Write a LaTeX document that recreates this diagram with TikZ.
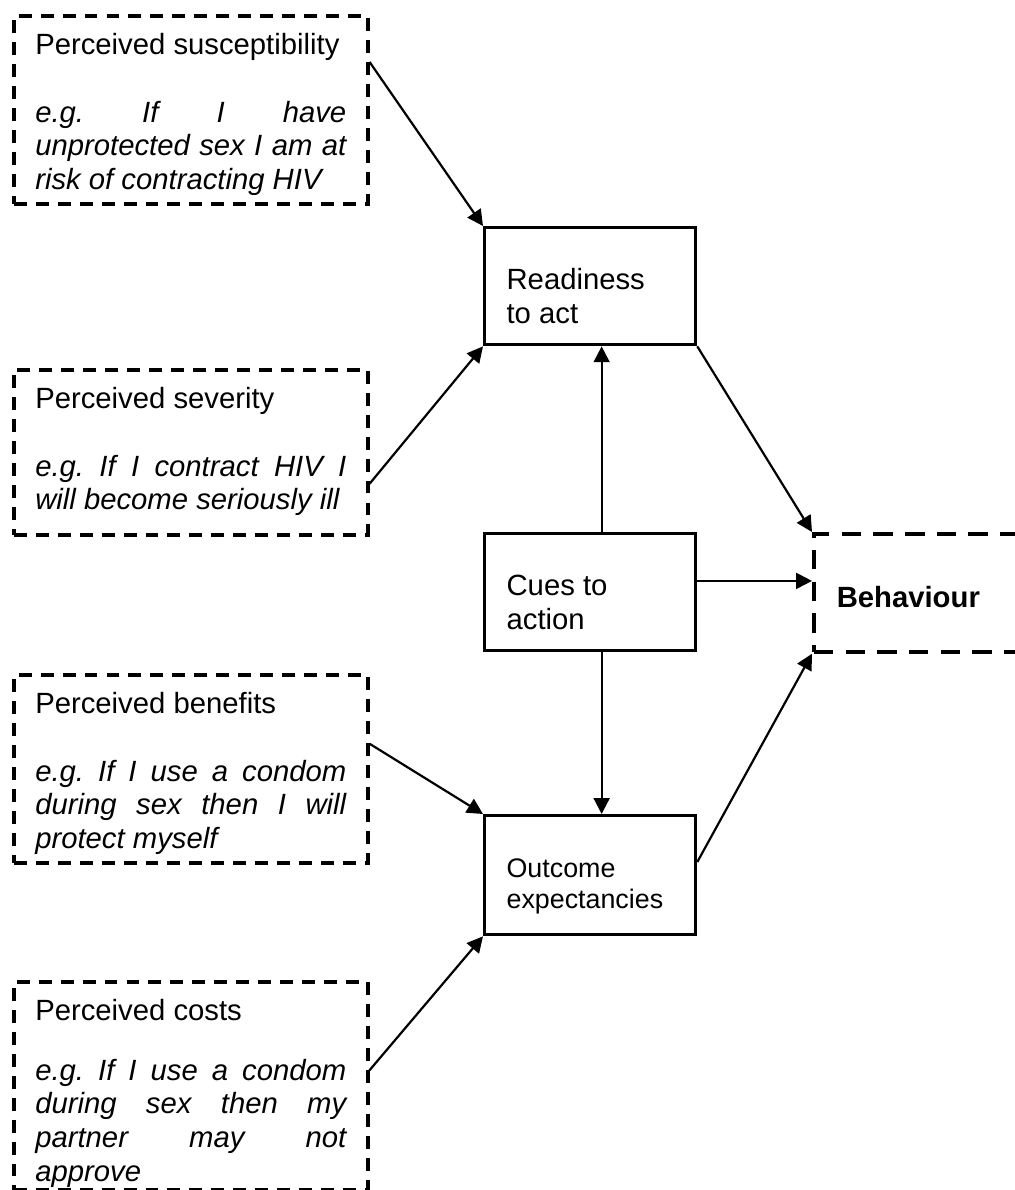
\documentclass[tikz,border=0pt]{standalone}
\usepackage{fontspec}
\setmainfont{Liberation Sans}
\usetikzlibrary{arrows.meta}
\frenchspacing

\newcommand{\notebox}[4][13.8pt]{%
  \begin{minipage}[c][#2][t]{127.5pt}%
    \fontsize{12}{13.8}\selectfont
    \rule{0pt}{16pt}#3\par
    \vspace{#1}%
    \itshape #4%
  \end{minipage}}
\newcommand{\fillline}[1]{\makebox[\linewidth][s]{#1}\par}
\newcommand{\stagetext}[4]{%
  \begin{minipage}[c][#1][t]{#2}%
    #3\rule{0pt}{25.5pt}#4%
  \end{minipage}}

\begin{document}
\begin{tikzpicture}[x=0.41pt, y=-0.41pt,
    dashbox/.style={draw, line width=1.5pt, dash pattern=on 5.3pt off 3.7pt, anchor=north west, inner xsep=8.8pt, inner ysep=0pt},
    stagebox/.style={draw, line width=1.35pt, anchor=north west, inner xsep=9pt, inner ysep=0pt},
    arr/.style={line width=0.9pt, -{Triangle[length=6.5pt,width=6.5pt]}}]
    \useasboundingbox (0,0) rectangle (1014,1190);

    \node[dashbox] (susc) at (12,14) {\notebox{77.1pt}{Perceived susceptibility}{\fillline{e.g. If I have}\fillline{unprotected sex I am at}risk of contracting HIV}};
    \node[dashbox] (sev) at (12,368) {\notebox{67.6pt}{Perceived severity}{\fillline{e.g. If I contract HIV I}will become seriously ill}};
    \node[dashbox] (ben) at (12,673) {\notebox{77.1pt}{Perceived benefits}{\fillline{e.g. If I use a condom}\fillline{during sex then I will}protect myself}};
    \node[dashbox] (cost) at (12,980) {\notebox[10.5pt]{85.3pt}{Perceived costs}{\fillline{e.g. If I use a condom}\fillline{during sex then my}\fillline{partner may not}approve}};

    \node[stagebox] (read) at (483,226) {\stagetext{48pt}{68.5pt}{\fontsize{12}{13.8}\selectfont}{Readiness\\to act}};
    \node[stagebox] (cues) at (483,532) {\stagetext{48pt}{68.5pt}{\fontsize{12}{13.8}\selectfont}{Cues to\\action}};
    \node[stagebox] (outc) at (483,814) {\stagetext{48.8pt}{68.5pt}{\fontsize{11}{12.6}\selectfont}{Outcome\\expectancies}};

    \node[draw, line width=1.5pt, dash pattern=on 8pt off 5pt, anchor=north west, inner xsep=9.4pt, inner ysep=0pt] (beh) at (812,532)
        {\begin{minipage}[c][48.4pt][t]{83.7pt}\fontsize{12}{13.8}\selectfont\rule{0pt}{30pt}\textbf{Behaviour}\end{minipage}};

    \draw[arr] (susc.15) -- (read.north west);
    \draw[arr] (sev.-10) -- (read.south west);
    \draw[arr] (read.south east) -- (beh.north west);
    \draw[arr] ([shift={(11.5,0)}]cues.north) -- ([shift={(11.5,0)}]read.south);
    \draw[arr] (cues.6) -- (cues.6 -| beh.west);
    \draw[arr] ([shift={(11.5,0)}]cues.south) -- ([shift={(11.5,0)}]outc.north);
    \draw[arr] (ben.8) -- (outc.north west);
    \draw[arr] (cost.5) -- (outc.south west);
    \draw[arr] (outc.7) -- (beh.south west);
\end{tikzpicture}
\end{document}
